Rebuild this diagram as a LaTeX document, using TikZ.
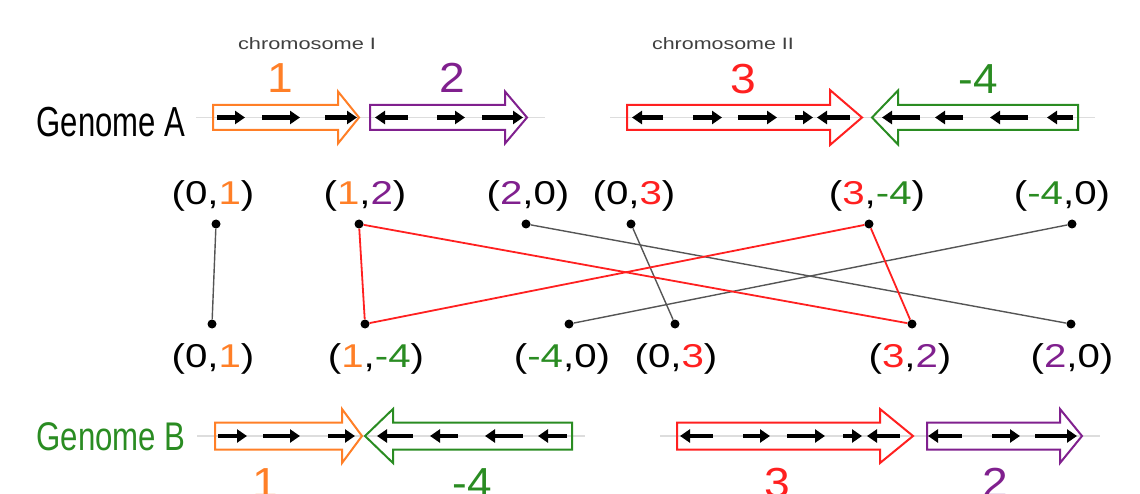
\documentclass[tikz,border=0pt]{standalone}
\usepackage{fontspec}
\setmainfont{Liberation Sans}
\usetikzlibrary{arrows.meta}

\definecolor{gorange}{HTML}{FF7F27}
\definecolor{gpurple}{HTML}{80208E}
\definecolor{ggreen}{HTML}{2A8C22}
\definecolor{gred}{HTML}{FF2020}
\definecolor{linkgray}{HTML}{555555}
\definecolor{guidegray}{HTML}{DDDDDD}
\definecolor{chromgray}{HTML}{404040}

% horizontal stretch of a piece of text
\newcommand\hstretch[2]{\scalebox{#1}[1]{#2}}

% block arrow: body end a, head base b, tip c, centre y, body half height, head half height, colour
\newcommand\blockarrow[7]{%
  \draw[blk, draw=#7] (#1,#4-#5) -- (#2,#4-#5) -- (#2,#4-#6) -- (#3,#4)
    -- (#2,#4+#6) -- (#2,#4+#5) -- (#1,#4+#5) -- cycle;}

\tikzset{
  blk/.style={line width=2pt, line join=miter},
  strand/.style={line width=4.4pt, black, -{Triangle[length=10pt,width=13pt]}},
  guide/.style={draw=guidegray, line width=1.5pt},
  pairtxt/.style={anchor=base, inner sep=0pt, font=\fontsize{33}{38}\selectfont},
  genetxt/.style={anchor=base, inner sep=0pt, font=\fontsize{42}{48}\selectfont},
  genome/.style={anchor=base, inner sep=0pt},
  chrom/.style={anchor=base, inner sep=0pt, text=chromgray, font=\fontsize{16.5}{20}\selectfont},
  dot/.style={circle, fill=black, inner sep=0pt, minimum size=9pt},
  link/.style={draw=linkgray, line width=1.4pt},
  cyc/.style={draw=gred, line width=1.8pt},
}

\begin{document}
\begin{tikzpicture}[x=1pt,y=-1pt]
\useasboundingbox (0,0) rectangle (1140,494);

% ---------- Genome A ----------
\node[genome, font=\fontsize{42}{48}\selectfont] (gA) at (111,137) {\hstretch{0.74}{Genome A}};
\node[chrom] (chrI) at (307,50) {\hstretch{1.32}{chromosome I}};
\node[chrom] (chrII) at (723,50) {\hstretch{1.3}{chromosome II}};

\draw[guide] (196,117.5) -- (545,117.5);
\draw[guide] (610,117.5) -- (1095,117.5);

\blockarrow{213}{338}{359}{117.5}{12.5}{26}{gorange}
\blockarrow{370}{505}{527}{117.5}{12.5}{26}{gpurple}
\blockarrow{627}{830}{862}{117.5}{12.5}{27.5}{gred}
\blockarrow{1078}{898}{872}{117.5}{12.5}{27}{ggreen}

\node[genetxt, text=gorange] (lA1) at (280,93) {\hstretch{1.1}{1}};
\node[genetxt, text=gpurple] (lA2) at (452,93) {\hstretch{1.1}{2}};
\node[genetxt, text=gred] (lA3) at (743,94) {\hstretch{1.1}{3}};
\node[genetxt, text=ggreen] (lA4) at (978,94) {\hstretch{1.05}{-4}};

% strands inside the genes of genome A
\foreach \a/\b in {217/245, 262/300, 325/357, 408/375, 437/465, 482/523,
                   663/632, 693/722, 738/777, 795/813, 850/817,
                   920/882, 963/935, 1028/990, 1073/1047}
  \draw[strand] (\a,117.5) -- (\b,117.5);

% ---------- Genome B ----------
\node[genome, text=ggreen, font=\fontsize{40}{46}\selectfont] (gB) at (111,450) {\hstretch{0.78}{Genome B}};

\draw[guide] (197,436) -- (585,436);
\draw[guide] (660,436) -- (1100,436);

\blockarrow{215}{342}{362}{436}{13.5}{27}{gorange}
\blockarrow{572}{393}{365}{436}{13.5}{27}{ggreen}
\blockarrow{677}{880}{913}{436}{13.5}{27}{gred}
\blockarrow{927}{1060}{1082}{436}{13.5}{27}{gpurple}

\node[genetxt, text=gorange] (lB1) at (265,497) {\hstretch{1.1}{1}};
\node[genetxt, text=ggreen] (lB4) at (472,497) {\hstretch{1.05}{-4}};
\node[genetxt, text=gred] (lB3) at (777,497) {\hstretch{1.1}{3}};
\node[genetxt, text=gpurple] (lB2) at (995,497) {\hstretch{1.1}{2}};

% strands inside the genes of genome B
\foreach \a/\b in {218/247, 263/300, 328/355,
                   413/377, 458/430, 523/485, 567/538,
                   713/680, 743/770, 787/825, 843/862, 900/867,
                   962/928, 992/1020, 1035/1077}
  \draw[strand] (\a,436) -- (\b,436);

% ---------- adjacencies of genome A ----------
\node[pairtxt] (tl01) at (213,205) {\hstretch{1.22}{(0,\textcolor{gorange}{1})}};
\node[pairtxt] (tl12) at (365,205) {\hstretch{1.22}{(\textcolor{gorange}{1},\textcolor{gpurple}{2})}};
\node[pairtxt] (tl20) at (528,205) {\hstretch{1.22}{(\textcolor{gpurple}{2},0)}};
\node[pairtxt] (tl03) at (634,205) {\hstretch{1.22}{(0,\textcolor{gred}{3})}};
\node[pairtxt] (tl34) at (877,205) {\hstretch{1.22}{(\textcolor{gred}{3},\textcolor{ggreen}{-4})}};
\node[pairtxt] (tl40) at (1062,205) {\hstretch{1.22}{(\textcolor{ggreen}{-4},0)}};

\node[dot] (t01) at (216,224) {};
\node[dot] (t12) at (359,224) {};
\node[dot] (t20) at (526,224) {};
\node[dot] (t03) at (631,224) {};
\node[dot] (t34) at (869,224) {};
\node[dot] (t40) at (1072,224) {};

% ---------- adjacencies of genome B ----------
\node[pairtxt] (bl01) at (213,367) {\hstretch{1.22}{(0,\textcolor{gorange}{1})}};
\node[pairtxt] (bl14) at (376,367) {\hstretch{1.22}{(\textcolor{gorange}{1},\textcolor{ggreen}{-4})}};
\node[pairtxt] (bl40) at (562,367) {\hstretch{1.22}{(\textcolor{ggreen}{-4},0)}};
\node[pairtxt] (bl03) at (676,367) {\hstretch{1.22}{(0,\textcolor{gred}{3})}};
\node[pairtxt] (bl32) at (910,367) {\hstretch{1.22}{(\textcolor{gred}{3},\textcolor{gpurple}{2})}};
\node[pairtxt] (bl20) at (1072,367) {\hstretch{1.22}{(\textcolor{gpurple}{2},0)}};

\node[dot] (b01) at (212,324) {};
\node[dot] (b14) at (365,324) {};
\node[dot] (b40) at (569,324) {};
\node[dot] (b03) at (675,324) {};
\node[dot] (b32) at (912,324) {};
\node[dot] (b20) at (1071,324) {};

% ---------- breakpoint graph edges ----------
\draw[link] (t01) -- (b01);
\draw[link] (t20) -- (b20);
\draw[link] (t03) -- (b03);
\draw[link] (t40) -- (b40);

\draw[cyc] (t12) -- (b32);
\draw[cyc] (b32) -- (t34);
\draw[cyc] (t34) -- (b14);
\draw[cyc] (b14) -- (t12);
\end{tikzpicture}
\end{document}
